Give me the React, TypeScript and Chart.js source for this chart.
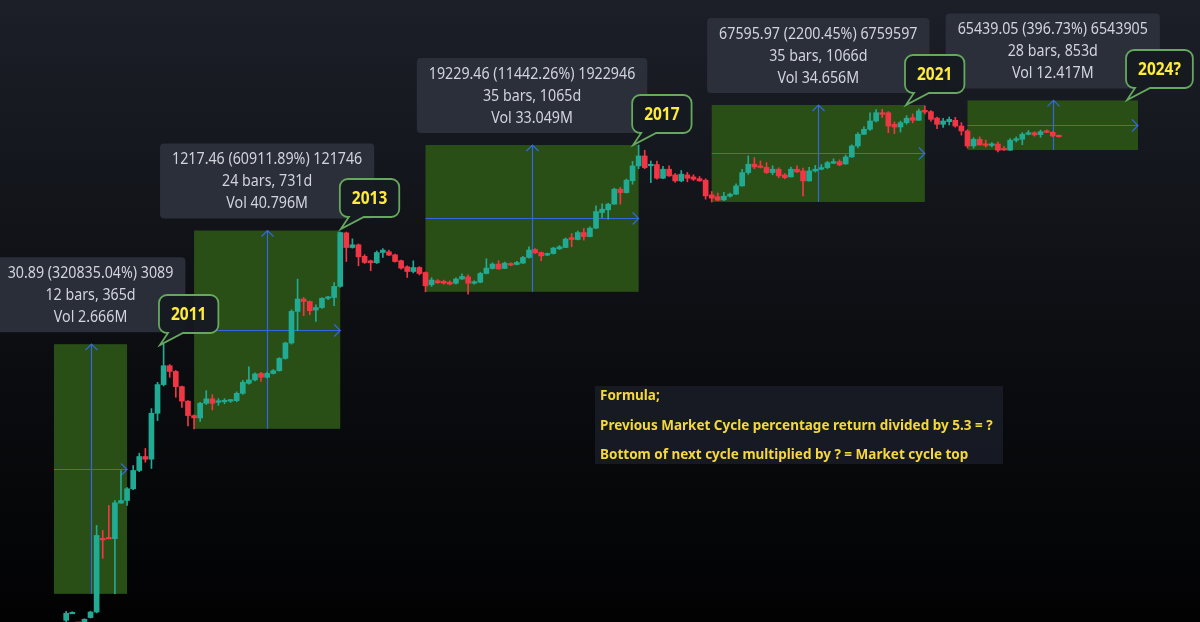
import React, { useEffect, useRef } from "react";
import { Chart, registerables } from "chart.js";

Chart.register(...registerables);

// Monthly BTC candles (USD), first bar = Feb 2010, last = Sep 2023
const opens = [
  0.00409, 0.00525, 0.0036, 0.00384, 0.00447, 0.00535, 0.0578, 0.0597, 0.0573, 0.181,
  0.197, 0.288, 0.52, 0.817, 0.749, 3.31, 8.36, 15.4, 12.8, 7.83,
  4.9, 3.07, 2.85, 4.57, 5.27, 4.72, 4.8, 4.9, 4.98, 6.31,
  8.71, 9.72, 12.0, 10.6, 12.0, 13.1, 19.5, 32.1, 89.2, 133,
  123, 93.3, 101, 136, 140, 200, 1130, 704, 768, 530,
  458, 430, 599, 613, 556, 460, 378, 324, 369, 314,
  211, 240, 236, 229, 222, 254, 273, 222, 229, 304,
  358, 412, 358, 420, 407, 425, 510, 660, 599, 551,
  580, 675, 704, 972, 912, 1143, 1004, 1317, 2181, 2379,
  2860, 4643, 4159, 6100, 9851, 13606, 9900, 10300, 6622, 8856,
  7368, 6069, 7368, 6906, 6538, 6208, 3861, 3655, 3286, 3702,
  3951, 5164, 7936, 10406, 9851, 9400, 7936, 8856, 7368, 6906,
  8856, 8382, 6069, 8382, 8856, 9327, 10748, 11317, 10500, 13174,
  18793, 27427, 32223, 42137, 55081, 55081, 37860, 34704, 39883, 47000,
  43098, 59524, 57000, 46300, 37860, 41180, 43098, 35848, 30505, 18793,
  23335, 19700, 19150, 20000, 17224, 16400, 22594, 23335, 27427, 28872,
  27100, 30505, 29200, 25960,
];
const highs = [
  0.00547, 0.0054, 0.0037, 0.0043, 0.0055, 0.088, 0.0748, 0.168, 0.197, 0.52,
  0.3, 0.611, 0.909, 1.06, 3.85, 9.0, 31.1, 16.0, 13.2, 8.0,
  5.0, 3.15, 4.7, 6.88, 6.05, 5.32, 5.3, 5.2, 6.6, 9.6,
  14.9, 12.2, 12.4, 12.5, 13.6, 20, 33, 94, 254, 140,
  125, 110, 140, 145, 227, 1160, 1160, 932, 790, 560,
  470, 630, 680, 650, 570, 470, 390, 458, 380, 320,
  265, 250, 245, 240, 265, 300, 290, 240, 315, 489,
  430, 460, 440, 430, 450, 530, 720, 680, 610, 590,
  710, 750, 960, 1107, 1200, 1301, 1370, 2707, 2887, 2950,
  4800, 4950, 6450, 11400, 19397, 16358, 11576, 11500, 9700, 9900,
  7700, 8500, 8000, 7400, 7000, 6500, 4300, 4100, 4200, 4100,
  5500, 8800, 13606, 12883, 11576, 10960, 9900, 9300, 7700, 9500,
  9900, 9200, 9400, 10000, 10300, 11400, 12400, 12000, 14000, 19500,
  29000, 35000, 55081, 61000, 61470, 57000, 41000, 42000, 50000, 52900,
  62000, 69000, 59000, 47900, 45800, 48000, 47400, 40000, 31900, 24600,
  25200, 22700, 21000, 21400, 18400, 23900, 25200, 29000, 31000, 29800,
  31400, 31800, 30200, 26800,
];
const lows = [
  0.00384, 0.0052, 0.0034, 0.0037, 0.0044, 0.0052, 0.0303, 0.058, 0.0097, 0.18,
  0.168, 0.28, 0.5, 0.68, 0.555, 2.61, 8.0, 10.6, 5.54, 4.01,
  2.2, 2.0, 2.55, 4.4, 3.69, 4.28, 4.5, 4.7, 4.8, 6.1,
  8.5, 9.4, 9.3, 10.3, 11.8, 12.9, 19, 31, 47.8, 77.6,
  80, 64.5, 98, 130, 107, 195, 448, 690, 390, 420,
  332, 420, 510, 540, 440, 350, 267, 310, 290, 168,
  200, 220, 215, 210, 215, 250, 156, 215, 225, 300,
  350, 348, 355, 390, 400, 420, 500, 580, 458, 540,
  570, 660, 700, 720, 900, 894, 990, 1300, 1855, 1762,
  2850, 2860, 4100, 5456, 9000, 9000, 5744, 6400, 6500, 7000,
  5800, 5900, 5900, 6150, 6000, 3361, 3072, 3200, 3200, 3600,
  3900, 5100, 7500, 9000, 9200, 7700, 7400, 6700, 6500, 6900,
  8000, 3739, 6000, 8100, 8700, 9000, 10600, 9900, 10400, 13000,
  17600, 27000, 31000, 41000, 47000, 28872, 27956, 29500, 38000, 39600,
  43000, 53000, 42000, 33000, 34300, 37000, 34500, 26700, 17600, 17500,
  19300, 18150, 18200, 15500, 16250, 16300, 21400, 19600, 26900, 25800,
  24800, 28900, 25300, 24900,
];
const closes = [
  0.00513, 0.0053, 0.0035, 0.00423, 0.00535, 0.0637, 0.0575, 0.059, 0.183, 0.197,
  0.288, 0.52, 0.817, 0.749, 3.31, 8.36, 15.4, 12.8, 7.83, 4.9,
  3.07, 2.85, 4.57, 5.27, 4.57, 4.8, 4.9, 4.98, 6.31, 9.0,
  9.72, 11.8, 10.6, 12.0, 13.1, 19.5, 32.1, 89.2, 133, 123,
  91.2, 101, 136, 140, 200, 1143, 704, 768, 521, 434,
  430, 599, 648, 551, 448, 362, 324, 369, 304, 204,
  246, 225, 222, 216, 254, 276, 222, 229, 304, 362,
  412, 352, 425, 399, 434, 510, 648, 593, 538, 580,
  691, 720, 923, 912, 1143, 1004, 1317, 2253, 2433, 2860,
  4643, 4159, 6208, 9851, 13606, 9327, 10300, 6622, 8856, 7133,
  6069, 7538, 6622, 6412, 6069, 3739, 3471, 3254, 3702, 3951,
  5164, 7936, 10406, 9539, 9400, 7936, 8856, 7133, 6751, 8856,
  8119, 6069, 8382, 8856, 9327, 10960, 11317, 10174, 13174, 18793,
  27427, 32223, 42137, 55081, 52314, 35848, 34704, 39883, 45978, 43098,
  58182, 56338, 44500, 37860, 42137, 44500, 35848, 30505, 18793, 23335,
  19409, 19150, 20000, 16358, 16500, 22594, 23335, 27427, 28872, 26816,
  29819, 29200, 25960, 25300,
];

// Date & price range measurements (bar index from/to, price low/high)
const rangeFrom = [-2, 21, 59, 106, 148];
const rangeTo = [10, 45, 94, 141, 176];
const rangeLow = [0.00963, 2.0, 168.05, 3072, 16494];
const rangeHigh = [30.9, 1219.5, 19397, 70668, 81933];
const rangeLine1 = [
  "30.89 (320835.04%) 3089",
  "1217.46 (60911.89%) 121746",
  "19229.46 (11442.26%) 1922946",
  "67595.97 (2200.45%) 6759597",
  "65439.05 (396.73%) 6543905",
];
const rangeLine2 = ["12 bars, 365d", "24 bars, 731d", "35 bars, 1065d", "35 bars, 1066d", "28 bars, 853d"];
const rangeLine3 = ["Vol 2.666M", "Vol 40.796M", "Vol 33.049M", "Vol 34.656M", "Vol 12.417M"];

// Cycle-top callouts (tip at bar index / price)
const cycleLabels = ["2011", "2013", "2017", "2021", "2024?"];
const cycleTipIndex = [15.4, 45.1, 93.1, 137.9, 174.2];
const cycleTipPrice = [30.1, 1281, 19390, 70668, 83070];

const formulaLines = [
  "Formula;",
  "Previous Market Cycle percentage return divided by 5.3 = ?",
  "Bottom of next cycle multiplied by ? = Market cycle top",
];

const X_MIN = -10.867;
const X_MAX = 186.18;
const LOG_MIN = -2.412;
const LOG_MAX = 6.324;

const GREEN = "#22ab94";
const RED = "#f23645";

function squeezedText(ctx: CanvasRenderingContext2D, text: string, x: number, y: number, k: number) {
  const w = ctx.measureText(text).width;
  ctx.fillText(text, x, y, w * k);
  return w * k;
}

function roundRect(ctx: CanvasRenderingContext2D, x: number, y: number, w: number, h: number, r: number) {
  ctx.beginPath();
  ctx.moveTo(x + r, y);
  ctx.lineTo(x + w - r, y);
  ctx.arcTo(x + w, y, x + w, y + r, r);
  ctx.lineTo(x + w, y + h - r);
  ctx.arcTo(x + w, y + h, x + w - r, y + h, r);
  ctx.lineTo(x + r, y + h);
  ctx.arcTo(x, y + h, x, y + h - r, r);
  ctx.lineTo(x, y + r);
  ctx.arcTo(x, y, x + r, y, r);
  ctx.closePath();
}

function bubblePath(ctx: CanvasRenderingContext2D, x: number, y: number, w: number, h: number, r: number, tx: number, ty: number) {
  const b = y + h;
  ctx.beginPath();
  ctx.moveTo(x + r, y);
  ctx.lineTo(x + w - r, y);
  ctx.arcTo(x + w, y, x + w, y + r, r);
  ctx.lineTo(x + w, b - r);
  ctx.arcTo(x + w, b, x + w - r, b, r);
  ctx.lineTo(x + 24, b);
  ctx.lineTo(tx, ty);
  ctx.lineTo(x + 9, b);
  ctx.lineTo(x + r, b);
  ctx.arcTo(x, b, x, b - r, r);
  ctx.lineTo(x, y + r);
  ctx.arcTo(x, y, x + r, y, r);
  ctx.closePath();
}

const backgroundPlugin = {
  id: "bg",
  beforeDraw(chart: any) {
    const { ctx, width, height } = chart;
    const g = ctx.createLinearGradient(0, 0, 0, height);
    g.addColorStop(0, "#1c1f28");
    g.addColorStop(0.5, "#0d0f13");
    g.addColorStop(1, "#020203");
    ctx.save();
    ctx.fillStyle = g;
    ctx.fillRect(0, 0, width, height);
    ctx.restore();
  },
};

const rangesPlugin = {
  id: "ranges",
  beforeDatasetsDraw(chart: any) {
    const { ctx } = chart;
    const xs = chart.scales.x;
    const ys = chart.scales.y;
    ctx.save();
    for (let k = 0; k < rangeFrom.length; k++) {
      const l = xs.getPixelForValue(rangeFrom[k]);
      const r = xs.getPixelForValue(rangeTo[k]);
      const t = ys.getPixelForValue(Math.log10(rangeHigh[k]));
      const b = ys.getPixelForValue(Math.log10(rangeLow[k]));
      ctx.fillStyle = "#294f16";
      ctx.fillRect(l, t, r - l, b - t);
      const cx = Math.round((l + r) / 2) + 0.5;
      const cy = Math.round((t + b) / 2) + 0.5;
      ctx.strokeStyle = "#3467e0";
      ctx.lineWidth = 1.2;
      ctx.beginPath();
      ctx.moveTo(cx, b);
      ctx.lineTo(cx, t);
      ctx.moveTo(cx - 6, t + 6);
      ctx.lineTo(cx, t);
      ctx.lineTo(cx + 6, t + 6);
      ctx.moveTo(l, cy);
      ctx.lineTo(r, cy);
      ctx.moveTo(r - 6, cy - 6);
      ctx.lineTo(r, cy);
      ctx.lineTo(r - 6, cy + 6);
      ctx.stroke();
    }
    ctx.restore();
  },
};

const notesPlugin = {
  id: "notes",
  afterDatasetsDraw(chart: any) {
    const { ctx } = chart;
    const xs = chart.scales.x;
    const ys = chart.scales.y;
    ctx.save();
    // range info labels
    ctx.font = "16px 'Noto Sans'";
    ctx.textAlign = "center";
    ctx.textBaseline = "middle";
    const K = 0.89;
    for (let k = 0; k < rangeFrom.length; k++) {
      const l = xs.getPixelForValue(rangeFrom[k]);
      const r = xs.getPixelForValue(rangeTo[k]);
      const t = ys.getPixelForValue(Math.log10(rangeHigh[k]));
      const cx = (l + r) / 2;
      const lines = [rangeLine1[k], rangeLine2[k], rangeLine3[k]];
      let maxW = 0;
      for (const s of lines) maxW = Math.max(maxW, ctx.measureText(s).width * K);
      const w = maxW + 24;
      const h = 75;
      const bottom = t - 12;
      ctx.fillStyle = "rgba(44,48,59,0.95)";
      roundRect(ctx, cx - w / 2, bottom - h, w, h, 4);
      ctx.fill();
      ctx.fillStyle = "#d1d4dc";
      squeezedText(ctx, lines[0], cx, bottom - 59, K);
      squeezedText(ctx, lines[1], cx, bottom - 37, K);
      squeezedText(ctx, lines[2], cx, bottom - 15, K);
    }
    // cycle-top callouts
    ctx.font = "bold 18px 'Noto Sans'";
    for (let k = 0; k < cycleLabels.length; k++) {
      const tx = xs.getPixelForValue(cycleTipIndex[k]);
      const ty = ys.getPixelForValue(Math.log10(cycleTipPrice[k]));
      const tw = ctx.measureText(cycleLabels[k]).width * 0.86;
      const w = tw + 24;
      const h = 38;
      const x = tx - 1;
      const y = ty - 12 - h;
      bubblePath(ctx, x, y, w, h, 8, tx, ty);
      ctx.fillStyle = "rgba(22,26,32,0.96)";
      ctx.fill();
      ctx.strokeStyle = "#66a85e";
      ctx.lineWidth = 1.8;
      ctx.stroke();
      ctx.fillStyle = "#ffeb3b";
      squeezedText(ctx, cycleLabels[k], x + w / 2, y + h / 2 + 1, 0.86);
    }
    // formula note
    ctx.fillStyle = "rgba(24,28,38,0.9)";
    ctx.fillRect(595, 386, 408, 78);
    ctx.font = "bold 15px 'Noto Sans'";
    ctx.textAlign = "left";
    ctx.fillStyle = "#f5d83c";
    const fy = [396, 426, 455];
    for (let k = 0; k < formulaLines.length; k++) squeezedText(ctx, formulaLines[k], 600, fy[k], 0.9);
    ctx.restore();
  },
};

export default function App() {
  const ref = useRef<HTMLCanvasElement | null>(null);
  useEffect(() => {
    if (!ref.current) return;
    const idx = closes.map((_, i) => i);
    const colors = idx.map((i) => (closes[i] >= opens[i] ? GREEN : RED));
    const chart = new Chart(ref.current, {
      type: "bar",
      data: {
        datasets: [
          {
            label: "wick",
            data: idx.map((i) => ({ x: i, y: [Math.log10(lows[i]), Math.log10(highs[i])] })) as any,
            backgroundColor: colors,
            barThickness: 1,
            grouped: false,
            borderWidth: 0,
          } as any,
          {
            label: "body",
            data: idx.map((i) => ({ x: i, y: [Math.log10(opens[i]), Math.log10(closes[i])] })) as any,
            backgroundColor: colors,
            barThickness: 5,
            grouped: false,
            minBarLength: 1.5,
            borderWidth: 0,
          } as any,
        ],
      },
      options: {
        responsive: false,
        devicePixelRatio: 1,
        animation: false,
        layout: { padding: 0 },
        plugins: { legend: { display: false }, tooltip: { enabled: false } },
        scales: {
          x: { type: "linear", min: X_MIN, max: X_MAX, display: false, offset: false },
          y: { type: "linear", min: LOG_MIN, max: LOG_MAX, display: false },
        },
      },
      plugins: [backgroundPlugin, rangesPlugin, notesPlugin],
    });
    return () => chart.destroy();
  }, []);
  return (
    <div style={{ position: "fixed", left: 0, top: 0, width: 1200, height: 622 }}>
      <canvas ref={ref} width={1200} height={622} style={{ display: "block" }} />
    </div>
  );
}
